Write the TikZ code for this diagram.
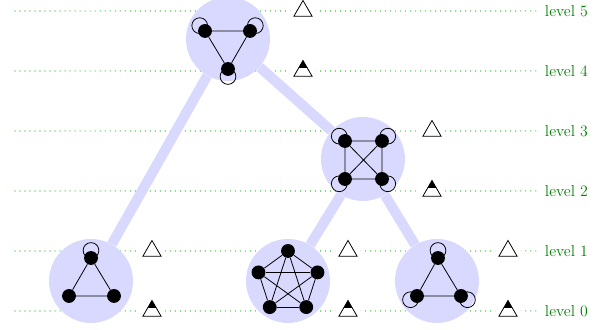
\documentclass[tikz,border=0pt]{standalone}
\usetikzlibrary{positioning,shapes.geometric}

\begin{document}
\begin{tikzpicture}[x=1.6cm, y=1.6cm,
    vertex/.style={circle, fill=black, inner sep=0pt, minimum size=3.7mm},
    blob/.style={circle, fill=blue!15, inner sep=0pt, minimum size=2.24cm},
    link/.style={draw=blue!15, line width=2.7mm},
    selfloop/.style={semithick},
    marker/.style={regular polygon, regular polygon sides=3, draw=black, fill=white, semithick, inner sep=0pt, minimum size=5.6mm,
        preaction={draw=white, line width=9pt, line join=round}},
    halfmarker/.style={marker, path picture={\fill[black] ([yshift=-1.9mm]path picture bounding box.north west) rectangle (path picture bounding box.north east);}},
    levelline/.style={draw=green!65!black, line width=0.9pt, line cap=round, dash pattern=on 0pt off 3.8pt},
    levellabel/.style={anchor=west, text=green!50!black, font=\large}]
        \useasboundingbox (0,-0.317) rectangle (10.167,5.183);

        % Levels
        \foreach \l in {0,...,5} {
            \coordinate (s\l) at (0.25,\l);
            \coordinate (e\l) at (9,\l);
            \draw[levelline] (s\l) -- (e\l) node[levellabel] (lab\l) {level \l};
        }

        % Blobs
        \node[blob] (top) at (3.8,4.533) {};
        \node[blob] (mid) at (6.05,2.533) {};
        \node[blob] (left) at (1.517,0.5) {};
        \node[blob] (centre) at (4.8,0.5) {};
        \node[blob] (right) at (7.283,0.5) {};
        \draw[link] (top) -- (left);
        \draw[link] (top) -- (mid);
        \draw[link] (mid) -- (centre);
        \draw[link] (mid) -- (right);

        % Markers
        \node[marker] (mk5) at (5.05,5) {};
        \node[halfmarker] (mk4) at (5.05,4) {};
        \node[marker] (mk3) at (7.2,3) {};
        \node[halfmarker] (mk2) at (7.2,2) {};
        \node[marker] (mkl1) at (2.533,1) {};
        \node[halfmarker] (mkl0) at (2.533,0) {};
        \node[marker] (mkc1) at (5.8,1) {};
        \node[halfmarker] (mkc0) at (5.8,0) {};
        \node[marker] (mkr1) at (8.467,1) {};
        \node[halfmarker] (mkr0) at (8.467,0) {};

        % Top graph
        \node[vertex] (t1) at (3.417,4.667) {};
        \node[vertex] (t2) at (4.167,4.667) {};
        \node[vertex] (t3) at (3.8,4.033) {};
        \draw[semithick] (t1) -- (t2) -- (t3) -- (t1);
        \draw[selfloop] (t1) ++(135:2mm) circle[radius=2.1mm];
        \draw[selfloop] (t2) ++(45:2mm) circle[radius=2.1mm];
        \draw[selfloop] (t3) ++(270:2mm) circle[radius=2.1mm];

        % Middle graph
        \node[vertex] (m1) at (5.75,2.833) {};
        \node[vertex] (m2) at (6.367,2.833) {};
        \node[vertex] (m3) at (5.75,2.2) {};
        \node[vertex] (m4) at (6.367,2.2) {};
        \draw[semithick] (m1) -- (m2) -- (m4) -- (m3) -- (m1) -- (m4);
        \draw[semithick] (m2) -- (m3);
        \draw[selfloop] (m1) ++(140:2mm) circle[radius=2.1mm];
        \draw[selfloop] (m2) ++(40:2mm) circle[radius=2.1mm];
        \draw[selfloop] (m3) ++(220:2mm) circle[radius=2.1mm];
        \draw[selfloop] (m4) ++(320:2mm) circle[radius=2.1mm];

        % Left graph
        \node[vertex] (a1) at (1.517,0.883) {};
        \node[vertex] (a2) at (1.15,0.25) {};
        \node[vertex] (a3) at (1.9,0.25) {};
        \draw[semithick] (a1) -- (a2) -- (a3) -- (a1);
        \draw[selfloop] (a1) ++(90:2mm) circle[radius=2.1mm];

        % Centre graph
        \foreach \i in {1,...,5}
            \node[vertex] (p\i) at ([shift={(4.8,0.483)}] 18+72*\i:0.517) {};
        \foreach \a/\b in {p1/p2,p1/p3,p1/p4,p1/p5,p2/p3,p2/p4,p2/p5,p3/p4,p3/p5,p4/p5}
            \draw[semithick] (\a) -- (\b);

        % Right graph
        \node[vertex] (r1) at (7.3,0.883) {};
        \node[vertex] (r2) at (6.95,0.25) {};
        \node[vertex] (r3) at (7.683,0.25) {};
        \draw[semithick] (r1) -- (r2) -- (r3) -- (r1);
        \draw[selfloop] (r1) ++(90:2mm) circle[radius=2.1mm];
        \draw[selfloop] (r2) ++(210:2mm) circle[radius=2.1mm];
        \draw[selfloop] (r3) ++(330:2mm) circle[radius=2.1mm];
\end{tikzpicture}
\end{document}
